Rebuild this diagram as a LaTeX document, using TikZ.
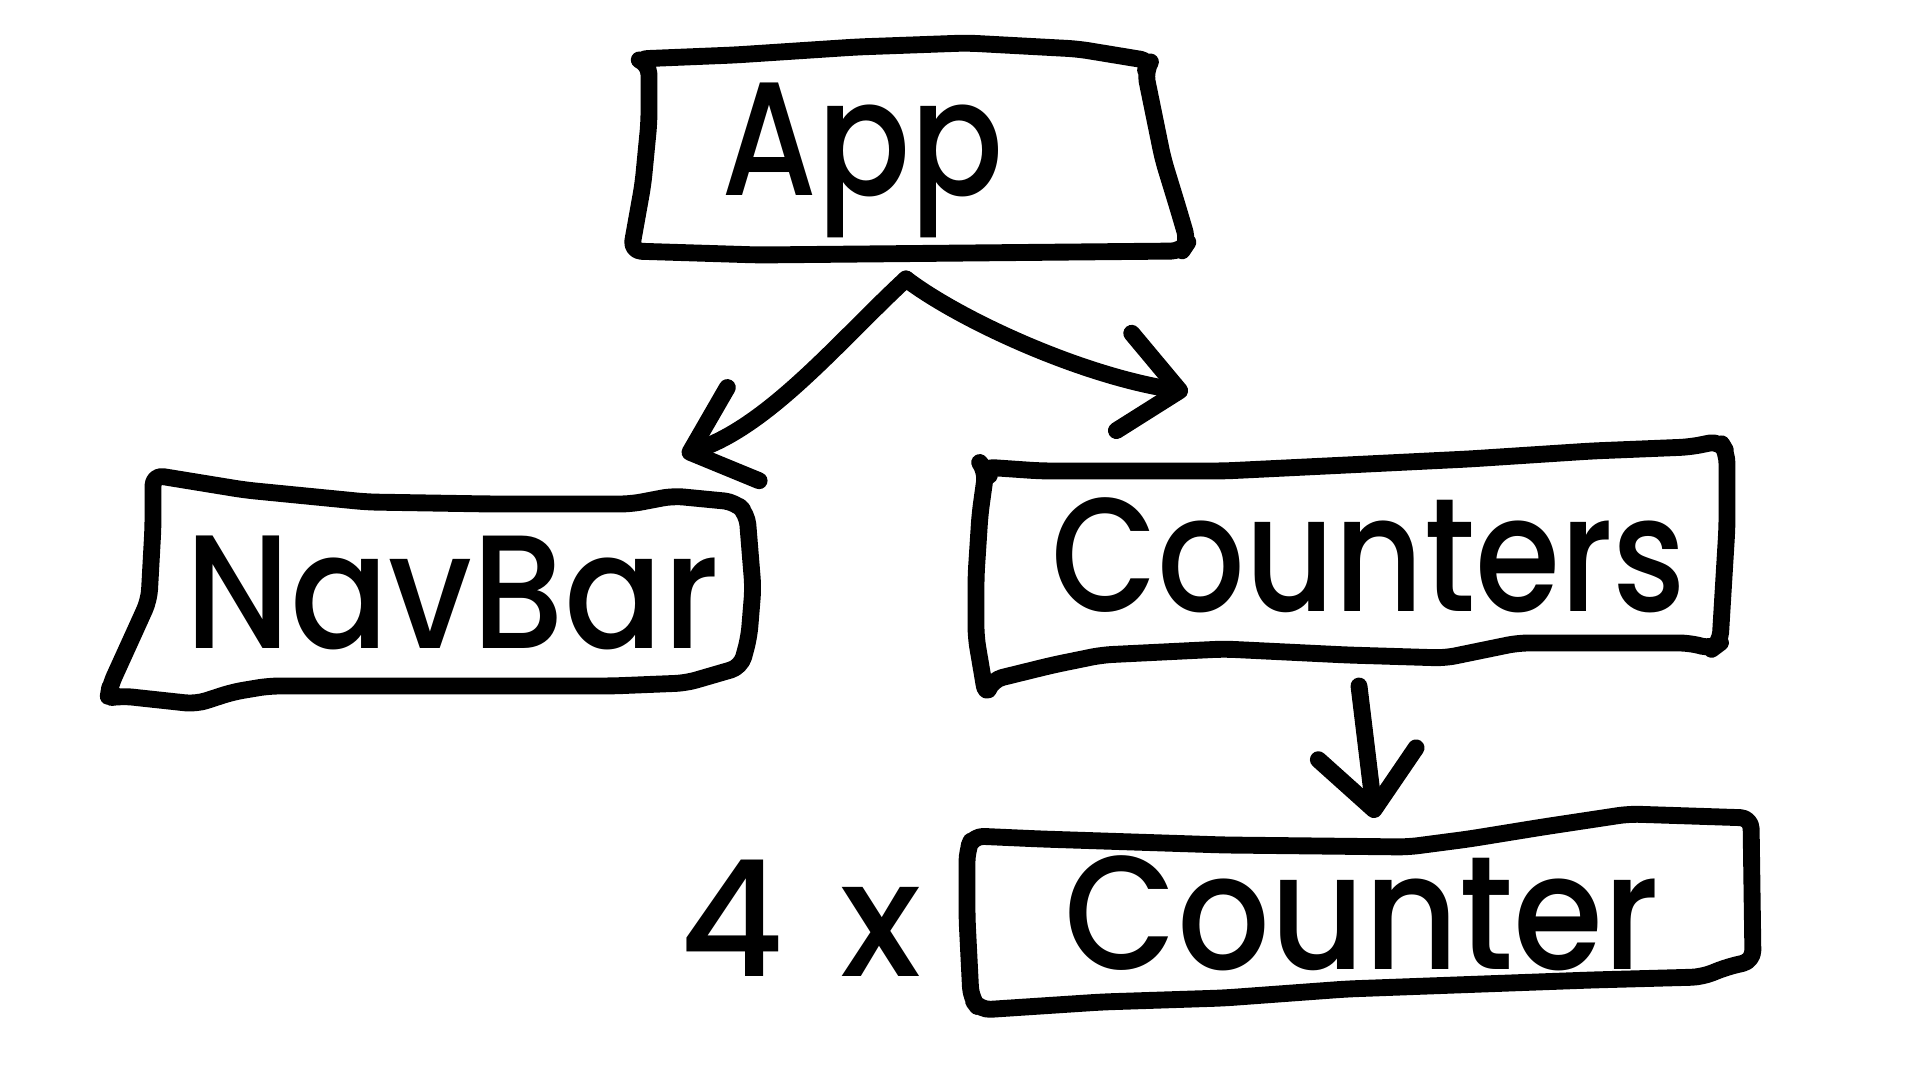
\documentclass[tikz,border=0pt]{standalone}
\usepackage{graphicx}
\usepackage{fontspec}
\setmainfont{Poppins Medium}
\usetikzlibrary{arrows.meta}
\tikzset{
  sketch/.style={line width=4.8pt, line cap=round, line join=round, rounded corners=3pt, draw=black},
  lbl/.style={font=\fontsize{46}{50}\selectfont, inner sep=0pt, anchor=base},
  arr/.style={sketch, rounded corners=0pt, -{Straight Barb[round,length=16pt,width=28pt]}},
}
\newcommand{\narrow}[2][0.85]{\scalebox{#1}[1]{#2}}
\begin{document}
\begin{tikzpicture}[x=0.01cm,y=-0.01cm]
\fill[white] (0,0) rectangle (1920,1080);
\useasboundingbox (0,0) rectangle (1920,1080);

% box outlines
\draw[sketch] (637,59) -- (735,55) -- (857,47) -- (967,43) -- (1078,49) -- (1151,61)
  -- (1145,71) -- (1163,159) -- (1178,208) -- (1188,242) -- (1182,251)
  -- (759,255) -- (631,251) -- (643,184) -- (649,122) -- (649,64) -- cycle;
\draw[sketch] (153,475) -- (245,490) -- (367,502) -- (490,504) -- (631,504) -- (673,496) -- (735,502)
  -- (747,514) -- (753,588) -- (749,637) -- (741,667)
  -- (686,683) -- (612,686) -- (269,686) -- (233,692) -- (196,704) -- (159,700) -- (122,696) -- (108,698)
  -- (110,686) -- (135,631) -- (149,600) -- (153,527) -- cycle;
\draw[sketch] (983,467) -- (1041,471) -- (1224,471) -- (1347,465) -- (1469,459) -- (1592,451) -- (1690,447) -- (1720,441)
  -- (1727,453) -- (1727,527) -- (1720,643) -- (1712,649)
  -- (1690,643) -- (1518,643) -- (1445,658) -- (1347,655) -- (1224,649) -- (1102,655) -- (1053,665) -- (992,680) -- (986,696)
  -- (976,637) -- (976,576) -- (980,514) -- (986,471) -- cycle;
\draw[sketch] (973,836) -- (1041,839) -- (1224,845) -- (1408,847) -- (1469,839) -- (1543,827) -- (1629,814) -- (1751,818)
  -- (1753,961) -- (1727,967) -- (1702,977)
  -- (1592,980) -- (1347,989) -- (1224,998) -- (1102,1002) -- (980,1010) -- (971,998)
  -- (967,918) -- (967,851) -- cycle;

% labels
\node[lbl] (app) at (863,196) {\narrow{App}};
\node[lbl] (navbar) at (452,649) {\narrow[0.9]{NavBar}};
\node[lbl] (counters) at (1369,612) {\narrow{Counters}};
\node[lbl] (counter) at (1362,970) {\narrow[0.9]{Counter}};
\node[lbl] (times) at (800,977) {4\hspace{0.35em}x};

% connectors
\coordinate (appout) at (906,279);
\coordinate (navin) at (682,455);
\coordinate (cntsin) at (1188,392);
\coordinate (cntsout) at (1359,686);
\coordinate (cntin) at (1375,818);
\draw[arr] (appout) .. controls (840,340) and (770,425) .. (navin);
\draw[arr] (appout) .. controls (960,320) and (1080,375) .. (cntsin);
\draw[arr] (cntsout) -- (cntin);
\end{tikzpicture}
\end{document}
